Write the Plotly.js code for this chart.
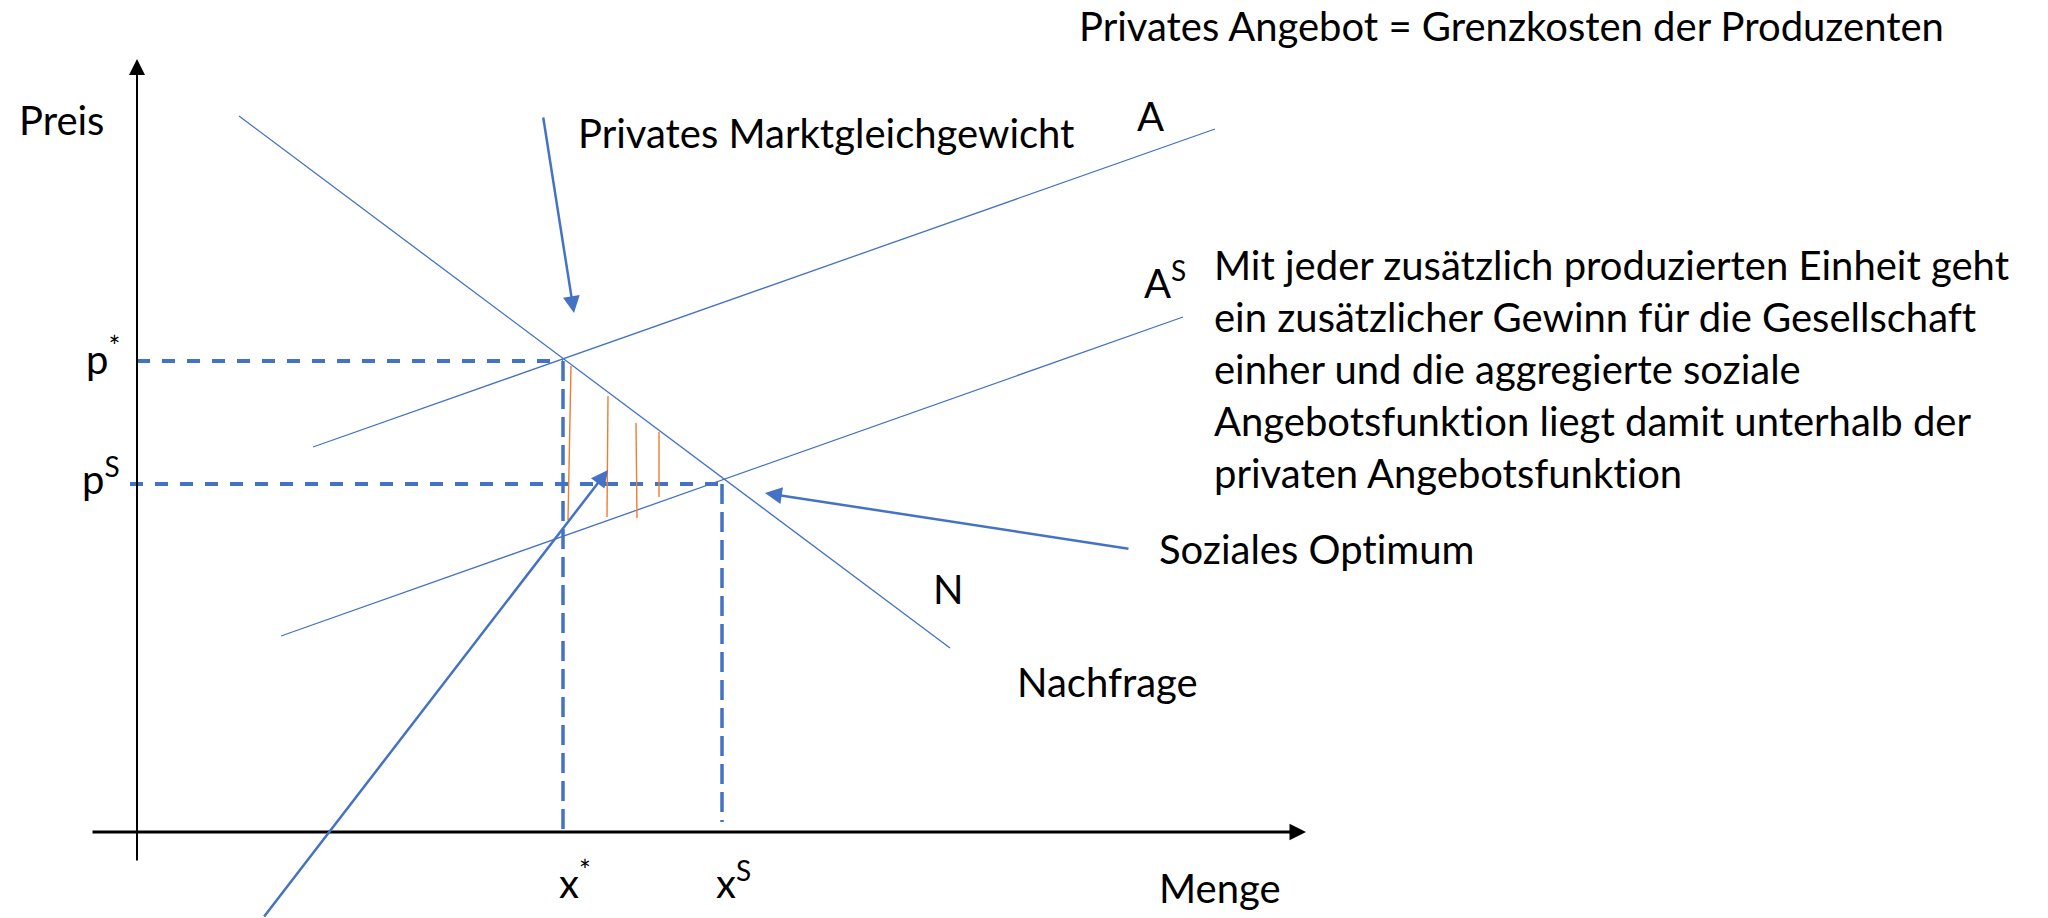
<!DOCTYPE html>
<html><head><meta charset="utf-8">
<script src="https://cdn.plot.ly/plotly-3.0.1.min.js"></script>
<style>
html,body{margin:0;padding:0;background:#fff;overflow:hidden}
#chart{width:2048px;height:918px}
svg text{font-variant-ligatures:none;font-feature-settings:"liga" 0,"clig" 0;}
</style>
</head><body><div id="chart"></div>
<script>
// Curves (Menge on x, Preis on y; abstract units)
const demandX = [10.2, 81.3], demandY = [71.6, 18.4];      // N (Nachfrage)
const supplyX = [17.6, 107.8], supplyY = [38.5, 70.3];     // A (privates Angebot)
const socialX = [14.4, 104.6], socialY = [19.6, 51.5];     // A^S (soziales Angebot)
// Equilibria
const pStar = 47.1, xStar = 42.6;
const pSocial = 34.8, xSocial = 58.5;
// Hatch lines (welfare triangle)
const hatchTopX = [43.4, 47.1, 49.9, 52.2], hatchTopY = [46.6, 43.6, 40.9, 40.0];
const hatchBotX = [43.1, 47.0, 50.0, 52.2], hatchBotY = [31.2, 31.5, 31.4, 33.5];
// Pointer arrows [tailX, tailY, tipX, tipY]
const arrowMarket = [40.6, 71.6, 43.7, 51.9];
const arrowSocial = [99.3, 28.3, 62.8, 33.9];
const arrowLong = [12.6, -8.6, 47.1, 36.2];
// Axis arrows
const yAxisArrow = [0, -3.0, 0, 77.3];
const xAxisArrow = [-4.6, 0, 116.9, 0];

const BLUE = '#4472C4', ORANGE = '#ED7D31';
const FONT = 'Lato, "Noto Sans", sans-serif';
const FS = 40;

const traces = [];
function line(x, y, w, color, dash) {
  traces.push({x: x, y: y, mode: 'lines', type: 'scatter', hoverinfo: 'skip',
    line: {color: color, width: w, dash: dash || 'solid'}, showlegend: false});
}
line(demandX, demandY, 1.3, BLUE);
line(supplyX, supplyY, 1.3, BLUE);
line(socialX, socialY, 1.3, BLUE);
line([0, xStar], [pStar, pStar], 4, BLUE, '13px,12px');
line([xStar, xStar], [pStar, 0], 3.5, BLUE, '20px,8px');
line([-0.7, xSocial], [pSocial, pSocial], 4, BLUE, '13px,12px');
line([xSocial, xSocial], [pSocial, 1.0], 3.5, BLUE, '20px,8px');
for (let i = 0; i < hatchTopX.length; i++) {
  line([hatchTopX[i], hatchBotX[i]], [hatchTopY[i], hatchBotY[i]], 1.4, ORANGE);
}

const ann = [];
function arrow(a, color, w, size) {
  ann.push({x: a[2], y: a[3], ax: a[0], ay: a[1], xref: 'x', yref: 'y', axref: 'x', ayref: 'y',
    text: '', showarrow: true, arrowhead: 2, arrowsize: size, arrowwidth: w, arrowcolor: color,
    standoff: 0, startstandoff: 0});
}
arrow(yAxisArrow, '#000', 2, 1.6);
arrow(xAxisArrow, '#000', 3, 1.1);
arrow(arrowMarket, BLUE, 2.5, 1.35);
arrow(arrowSocial, BLUE, 2.5, 1.35);
arrow(arrowLong, BLUE, 2.5, 1.35);

function label(text, x, y, xanchor, yanchor) {
  ann.push({x: x, y: y, xref: 'x', yref: 'y', text: text, showarrow: false,
    xanchor: xanchor || 'left', yanchor: yanchor || 'middle', align: 'left',
    font: {family: FONT, size: FS, color: '#000'}});
}
label('Preis', -12.0, 71.2);
label('Privates Marktgleichgewicht', 43.9, 69.9);
label('A', 101.3, 71.6, 'center');
label('Privates Angebot = Grenzkosten der Produzenten', 94.0, 80.6);
label('A<sup>S</sup>', 100.5, 55.2);
label('Mit jeder zusätzlich produzierten Einheit geht<br>ein zusätzlicher Gewinn für die Gesellschaft<br>einher und die aggregierte soziale<br>Angebotsfunktion liegt damit unterhalb der<br>privaten Angebotsfunktion', 107.5, 46.3);
label('Soziales Optimum', 102.0, 28.3);
label('N', 81.1, 24.3, 'center');
label('Nachfrage', 87.8, 15.0);
label('p<sup>*</sup>', -1.5, 47.6, 'right');
label('p<sup>S</sup>', -1.5, 35.6, 'right');
label('x<sup>*</sup>', 43.8, -4.8, 'center');
label('x<sup>S</sup>', 59.6, -4.8, 'center');
label('Menge', 102.0, -5.6);

const layout = {
  width: 2048, height: 918,
  margin: {l: 0, r: 0, t: 0, b: 0, pad: 0},
  paper_bgcolor: '#fff', plot_bgcolor: '#fff',
  xaxis: {range: [-13.7, 191.1], visible: false, fixedrange: true},
  yaxis: {range: [-8.6, 83.2], visible: false, fixedrange: true},
  showlegend: false, hovermode: false,
  annotations: ann
};
Plotly.newPlot('chart', traces, layout, {staticPlot: true, displayModeBar: false});
</script>
</body></html>
